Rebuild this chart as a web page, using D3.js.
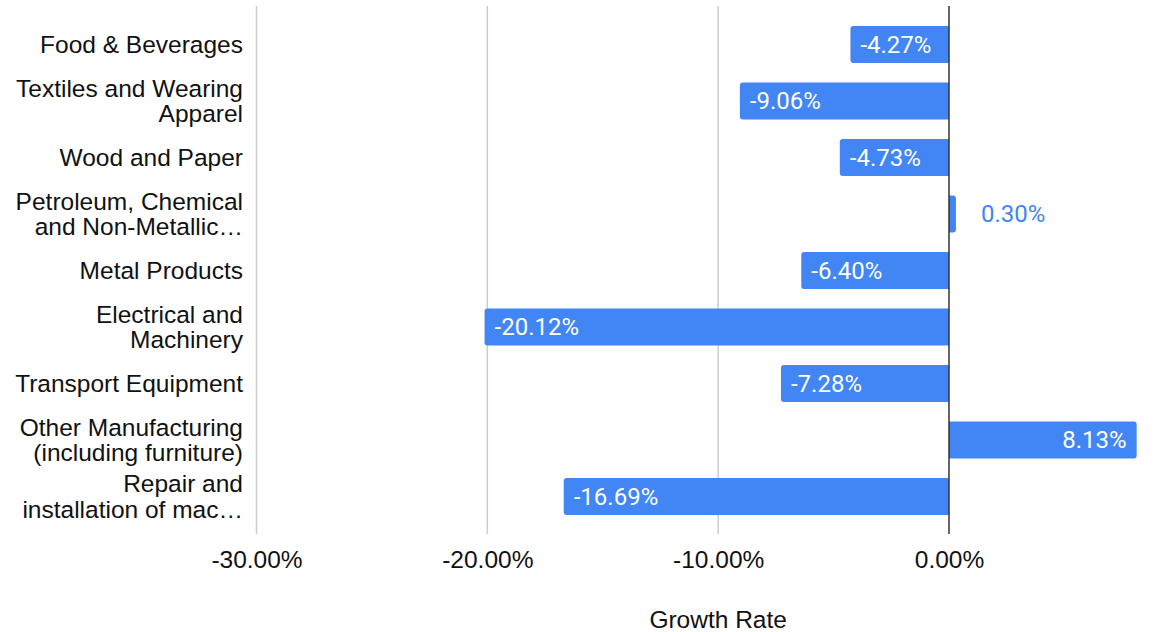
<!DOCTYPE html>
<html>
<head>
<meta charset="utf-8">
<script src="https://cdn.jsdelivr.net/npm/d3@7"></script>
<style>
    body { margin: 0; background: #fff; }
    text { font-family: "Liberation Sans", Arial, sans-serif; fill: #111; }
    .barText { font-family: Roboto, "Liberation Sans", sans-serif; font-size: 24px; }
</style>
</head>
<body>
<svg id="chart" width="1169" height="632"></svg>
<script>
/** Category labels, one array of lines per row */
var categories = [
    ['Food & Beverages'],
    ['Textiles and Wearing', 'Apparel'],
    ['Wood and Paper'],
    ['Petroleum, Chemical', 'and Non-Metallic…'],
    ['Metal Products'],
    ['Electrical and', 'Machinery'],
    ['Transport Equipment'],
    ['Other Manufacturing', '(including furniture)'],
    ['Repair and', 'installation of mac…']
];

/** Growth rate in percent */
var growthRates = [-4.27, -9.06, -4.73, 0.30, -6.40, -20.12, -7.28, 8.13, -16.69];

/** Tick values for the x axis */
var xTicks = [-30, -20, -10, 0];

var axisTitle = 'Growth Rate';

var barColor = '#4285f4',
    gridTop = 6,
    gridBottom = 534,
    labelSize = '24.5px';

var svg = d3.select('#chart');

var x = d3.scaleLinear()
    .domain([-30, 0])
    .range([256.5, 949]);

var y = d3.scaleBand()
    .domain(d3.range(categories.length))
    .range([16.25, 16.25 + 56.5 * categories.length])
    .paddingInner(0.345)
    .paddingOuter(0.1725);

var pctFormat = d3.formatLocale({
    decimal: '.', thousands: ',', grouping: [3], currency: ['$', ''], minus: '-'
}).format('.2%');

//gridlines
svg.append('g').selectAll('line').data(xTicks.filter(function (d) { return d !== 0; }))
    .enter().append('line')
    .attr('x1', function (d) { return x(d); })
    .attr('x2', function (d) { return x(d); })
    .attr('y1', gridTop)
    .attr('y2', gridBottom)
    .style('stroke', '#cccccc')
    .style('stroke-width', 1.5);

//axis
var xAxis = d3.axisBottom(x)
    .tickValues(xTicks)
    .tickSize(0)
    .tickPadding(16.5)
    .tickFormat(function (d) { return pctFormat(d / 100); });

var axisG = svg.append('g')
    .attr('transform', 'translate(0,' + gridBottom + ')')
    .call(xAxis);
axisG.select('.domain').remove();
axisG.selectAll('text')
    .style('font-size', labelSize)
    .style('font-family', '"Liberation Sans", Arial, sans-serif')
    .style('fill', '#111');

svg.append('text')
    .attr('x', x(-10))
    .attr('y', 627.5)
    .attr('text-anchor', 'middle')
    .style('font-size', labelSize)
    .text(axisTitle);

/** Bar with rounded corners only on the far end */
function barPath(x0, x1, top, h, r) {
    var dir = x1 < x0 ? -1 : 1;
    var w = Math.abs(x1 - x0);
    r = Math.min(r, w / 2, h / 2);
    return 'M' + x0 + ',' + top +
        'H' + (x1 - dir * r) +
        'Q' + x1 + ',' + top + ' ' + x1 + ',' + (top + r) +
        'V' + (top + h - r) +
        'Q' + x1 + ',' + (top + h) + ' ' + (x1 - dir * r) + ',' + (top + h) +
        'H' + x0 + 'Z';
}

var rows = svg.append('g').selectAll('g').data(growthRates)
    .enter().append('g');

rows.append('path')
    .attr('d', function (d, i) {
        return barPath(x(0), x(d), y(i), y.bandwidth(), 3);
    })
    .style('fill', barColor);

//bar labels
function isSmall(d) {
    return Math.abs(x(d) - x(0)) < 80;
}

rows.append('text')
    .attr('class', 'barText')
    .attr('x', function (d) {
        if (isSmall(d)) return x(d) + 25;
        return d < 0 ? x(d) + 10 : x(d) - 10;
    })
    .attr('y', function (d, i) { return y(i) + y.bandwidth() / 2; })
    .attr('dy', '0.35em')
    .attr('text-anchor', function (d) {
        if (isSmall(d)) return 'start';
        return d < 0 ? 'start' : 'end';
    })
    .style('fill', function (d) {
        return isSmall(d) ? barColor : '#ffffff';
    })
    .text(function (d) { return pctFormat(d / 100); });

//zero line
svg.append('line')
    .attr('x1', x(0))
    .attr('x2', x(0))
    .attr('y1', gridTop)
    .attr('y2', gridBottom)
    .style('stroke', '#333333')
    .style('stroke-width', 1.5);

//category labels
var lineHeight = 25.5;
svg.append('g').selectAll('text').data(categories)
    .enter().append('text')
    .attr('text-anchor', 'end')
    .style('font-size', labelSize)
    .each(function (lines, i) {
        var cy = y(i) + y.bandwidth() / 2;
        var first = cy - (lines.length - 1) * lineHeight / 2;
        d3.select(this).selectAll('tspan').data(lines)
            .enter().append('tspan')
            .attr('x', 243)
            .attr('y', function (d, j) { return first + j * lineHeight; })
            .attr('dy', '0.35em')
            .text(function (d) { return d; });
    });
</script>
</body>
</html>
